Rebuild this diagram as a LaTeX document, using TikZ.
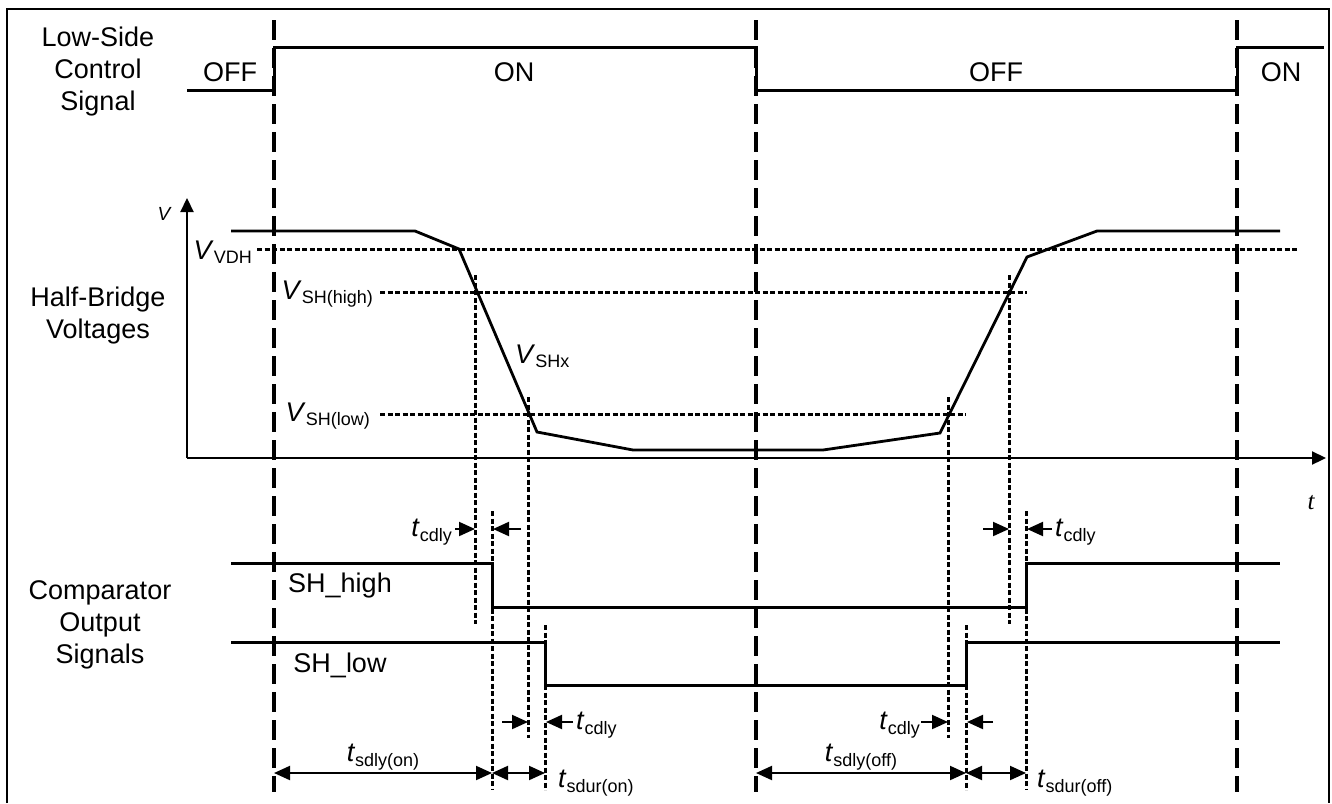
\documentclass[tikz,border=0pt]{standalone}
\usepackage{fontspec}
\setmainfont{Liberation Sans}
\newfontfamily\axisfont{Liberation Serif}
\usetikzlibrary{arrows.meta}
\newcommand{\lbl}[2]{\textit{#1}\raisebox{-0.3ex}{\fontsize{18}{18}\selectfont #2}}

\begin{document}
\begin{tikzpicture}[x=1pt,y=-1pt,>={Triangle[length=16pt,width=14pt]},
font=\fontsize{27}{32}\selectfont,
sig/.style={line width=3pt},
wave/.style={line width=2.8pt,line join=miter},
axis/.style={line width=2.2pt,-{Triangle[length=14pt,width=13pt]}},
edgeline/.style={line width=3.2pt,dash pattern=on 20pt off 8pt},
level/.style={line width=3pt,dash pattern=on 5pt off 2.5pt},
dim/.style={line width=2pt,<->},
tick/.style={line width=2pt,->}]
\useasboundingbox (0,0) rectangle (1332,803);
\draw[line width=1.5pt] (7,803) |- (1329,9) -- (1329,803);
\foreach \x in {274,756,1237} \draw[edgeline] (\x,20) -- (\x,792);

\node[align=center] (ctrl) at (98,72) {Low-Side\\Control\\Signal};
\node[align=center] (hb) at (98,316) {Half-Bridge\\Voltages};
\node[align=center] (cmp) at (100,625) {Comparator\\Output\\Signals};

\draw[sig] (187,90) -| (274,47) -| (756,90) -| (1237,47) -- (1324,47);
\node (off1) at (230,72) {OFF};
\node (on1) at (514,72) {ON};
\node (off2) at (996,72) {OFF};
\node (on2) at (1281,72) {ON};

\draw[axis] (187,458) -- (187,198);
\draw[axis] (187,458) -- (1326,458);
\node[font=\fontsize{19}{19}\selectfont\itshape] (vax) at (164,214) {V};
\node[font=\fontsize{25}{25}\selectfont\axisfont\itshape] (tax) at (1311,503) {t};

\draw[level] (257,249) -- (1298,249);
\draw[level] (380,292) -- (1027,292);
\draw[level] (380,414) -- (966,414);
\node[anchor=east,inner sep=1pt] (vdh) at (253,252) {\lbl{V}{VDH}};
\node[anchor=east,inner sep=1pt] (vhi) at (374,294) {\lbl{V}{SH(high)}};
\node[anchor=east,inner sep=1pt] (vlo) at (371,416) {\lbl{V}{SH(low)}};
\node[anchor=west,inner sep=1pt] (vshx) at (514,356) {\lbl{V}{SHx}};

\draw[wave] (231,231) -- (415,231) -- (459,249) -- (537,432) -- (633,450) -- (823,450)
  -- (940,433) -- (1027,257) -- (1097,231) -- (1280,231);

\draw[level] (475,275) -- (475,624);
\draw[level] (528,397) -- (528,738);
\draw[level] (492,511) -- (492,790);
\draw[level] (545,625) -- (545,790);
\draw[level] (948,397) -- (948,738);
\draw[level] (1009,275) -- (1009,624);
\draw[level] (966,625) -- (966,790);
\draw[level] (1026,511) -- (1026,790);

\draw[sig] (231,563) -| (492,607) -| (1026,563) -- (1280,563);
\draw[sig] (231,642) -| (545,685) -| (966,642) -- (1280,642);
\node (shhigh) at (340,586) {SH\_high};
\node (shlow) at (340,665) {SH\_low};

\node[anchor=east,inner sep=1pt] (cd1) at (453,532) {\lbl{t}{cdly}};
\draw[tick] (455,529) -- (475,529);
\draw[tick] (521,529) -- (493,529);
\draw[tick] (502,722) -- (528,722);
\draw[tick] (573,722) -- (546,722);
\node[anchor=west,inner sep=1pt] (cd2) at (575,725) {\lbl{t}{cdly}};
\node[anchor=east,inner sep=1pt] (cd3) at (921,725) {\lbl{t}{cdly}};
\draw[tick] (921,722) -- (948,722);
\draw[tick] (993,722) -- (967,722);
\draw[tick] (983,529) -- (1009,529);
\draw[tick] (1052,529) -- (1027,529);
\node[anchor=west,inner sep=1pt] (cd4) at (1054,532) {\lbl{t}{cdly}};

\draw[dim] (274,773) -- (492,773);
\draw[dim] (492,773) -- (545,773);
\draw[dim] (756,773) -- (966,773);
\draw[dim] (966,773) -- (1026,773);
\node (sdlyon) at (383,757) {\lbl{t}{sdly(on)}};
\node[anchor=west,inner sep=1pt] (sduron) at (557,783) {\lbl{t}{sdur(on)}};
\node (sdlyoff) at (861,757) {\lbl{t}{sdly(off)}};
\node[anchor=west,inner sep=1pt] (sduroff) at (1036,783) {\lbl{t}{sdur(off)}};
\end{tikzpicture}
\end{document}
